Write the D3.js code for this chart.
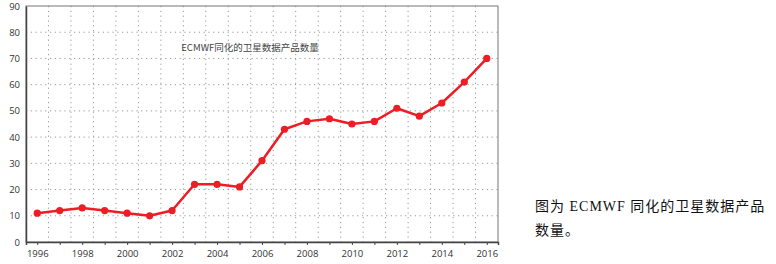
<!DOCTYPE html>
<html lang="zh">
<head>
<meta charset="utf-8">
<script src="https://cdn.jsdelivr.net/npm/d3@7/dist/d3.min.js"></script>
<style>
body { margin: 0; background: #fff; }
.axis text { font: 9.5px "Open Sans", "DejaVu Sans", sans-serif; fill: #333; }
.grid line { stroke: #999; stroke-width: 1; stroke-dasharray: 1.2,3.6; }
.note { font-family: "Liberation Serif", "Noto Sans CJK SC", serif; font-size: 14px; letter-spacing: 1px; fill: #111; }
</style>
</head>
<body>
<div id="chart"></div>
<script>
// years and counts
var years = [1996, 1997, 1998, 1999, 2000, 2001, 2002, 2003, 2004, 2005, 2006,
             2007, 2008, 2009, 2010, 2011, 2012, 2013, 2014, 2015, 2016];
var counts = [11, 12, 13, 12, 11, 10, 12, 22, 22, 21, 31,
              43, 46, 47, 45, 46, 51, 48, 53, 61, 70];
var yTicks = [0, 10, 20, 30, 40, 50, 60, 70, 80, 90];
var xLabels = [1996, 1998, 2000, 2002, 2004, 2006, 2008, 2010, 2012, 2014, 2016];
var title = "ECMWF同化的卫星数据产品数量";
var noteLines = ["图为 ECMWF 同化的卫星数据产品", "数量。"];

var W = 776, H = 264;
var plotL = 26, plotR = 498, plotT = 6, plotB = 242;

var svg = d3.select("#chart").append("svg")
    .attr("width", W)
    .attr("height", H);

var x = d3.scaleLinear().domain([1995.5, 2016.5]).range([plotL, plotR]);
var y = d3.scaleLinear().domain([0, 90]).range([plotB, plotT]);

// dotted grid: horizontal every 10, vertical between years
var halfYears = years.slice(0, -1).map(function(d) { return d + 0.5; });
var grid = svg.append("g").attr("class", "grid");
grid.selectAll(".h").data(yTicks.slice(1, -1))
  .enter().append("line")
    .attr("x1", plotL).attr("x2", plotR)
    .attr("y1", function(d) { return y(d); })
    .attr("y2", function(d) { return y(d); });
grid.selectAll(".v").data(halfYears)
  .enter().append("line")
    .attr("y1", plotT).attr("y2", plotB)
    .attr("x1", function(d) { return x(d); })
    .attr("x2", function(d) { return x(d); });

// frame
svg.append("rect")
    .attr("x", plotL).attr("y", plotT)
    .attr("width", plotR - plotL).attr("height", plotB - plotT)
    .attr("fill", "none")
    .attr("stroke", "#777")
    .attr("stroke-width", 1);

// axes
var xAxis = svg.append("g")
    .attr("class", "axis")
    .attr("transform", "translate(0," + plotB + ")")
    .call(d3.axisBottom(x).tickValues(years).tickSize(3).tickPadding(5)
      .tickFormat(function(d) { return xLabels.indexOf(d) >= 0 ? d : ""; }));
xAxis.select(".domain").attr("stroke", "#444").attr("stroke-width", 1.5);
xAxis.selectAll(".tick line").attr("stroke", "#444");

var yAxis = svg.append("g")
    .attr("class", "axis")
    .attr("transform", "translate(" + plotL + ",0)")
    .call(d3.axisLeft(y).tickValues(yTicks).tickSize(0).tickPadding(6));
yAxis.select(".domain").attr("stroke", "#444").attr("stroke-width", 1.5);

// series
var pts = years.map(function(d, i) { return {year: d, v: counts[i]}; });
svg.append("path")
    .datum(pts)
    .attr("fill", "none")
    .attr("stroke", "#ee1c25")
    .attr("stroke-width", 2.5)
    .attr("stroke-linejoin", "round")
    .attr("d", d3.line().x(function(d) { return x(d.year); }).y(function(d) { return y(d.v); }));
svg.selectAll(".dot").data(pts)
  .enter().append("circle")
    .attr("cx", function(d) { return x(d.year); })
    .attr("cy", function(d) { return y(d.v); })
    .attr("r", 3.6)
    .attr("fill", "#ee1c25");

// title inside plot
svg.append("text")
    .attr("x", 250).attr("y", 51)
    .attr("text-anchor", "middle")
    .style("font", "9.5px 'Noto Sans CJK SC', sans-serif")
    .style("fill", "#444")
    .text(title);

// caption on the right
svg.selectAll(".note").data(noteLines)
  .enter().append("text")
    .attr("class", "note")
    .attr("x", 535)
    .attr("y", function(d, i) { return 211 + i * 24; })
    .text(String);
</script>
</body>
</html>
